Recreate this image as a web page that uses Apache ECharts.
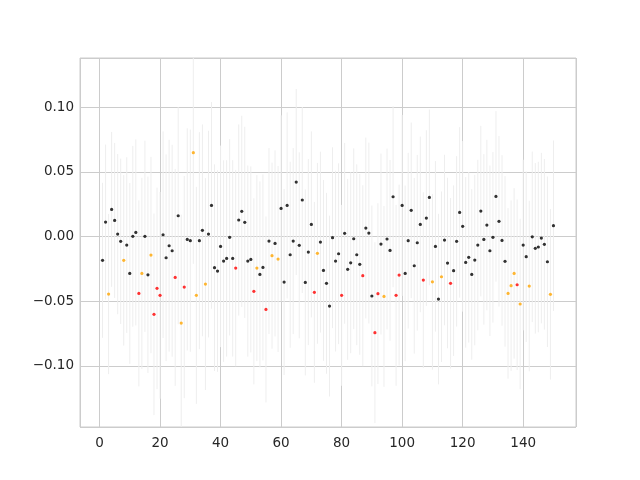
<!DOCTYPE html>
<html><head><meta charset="utf-8">
<script src="https://cdn.jsdelivr.net/npm/echarts@6/dist/echarts.min.js"></script>
<style>html,body{margin:0;padding:0;background:#fff}#c{width:640px;height:480px}</style>
</head><body><div id="c"></div>
<script>
const xValues = [];
for (let i = 1; i <= 150; i++) xValues.push(i);
const yValues = [
-0.0184,0.0112,-0.0445,0.0210,0.0125,0.0019,-0.0037,-0.0184,-0.0066,-0.0285,
0.0002,0.0032,-0.0440,-0.0285,0.0002,-0.0296,-0.0143,-0.0602,-0.0401,-0.0455,
0.0014,-0.0164,-0.0071,-0.0110,-0.0316,0.0161,-0.0670,-0.0391,-0.0022,-0.0032,
0.0649,-0.0455,-0.0032,0.0048,-0.0368,0.0019,0.0241,-0.0241,-0.0267,-0.0076,
-0.0190,-0.0169,-0.0006,-0.0169,-0.0244,0.0128,0.0195,0.0110,-0.0190,-0.0177,
-0.0424,-0.0244,-0.0293,-0.0239,-0.0564,-0.0035,-0.0148,-0.0053,-0.0174,0.0218,
-0.0352,0.0241,-0.0141,-0.0035,0.0422,-0.0068,0.0283,-0.0355,-0.0120,0.0094,
-0.0432,-0.0130,-0.0043,-0.0262,-0.0362,-0.0538,-0.0009,-0.0190,-0.0133,-0.0455,
0.0025,-0.0254,-0.0203,-0.0017,-0.0141,-0.0215,-0.0303,0.0066,0.0027,-0.0460,
-0.0744,-0.0442,-0.0058,-0.0463,-0.0019,-0.0107,0.0308,-0.0455,-0.0298,0.0241,
-0.0285,-0.0032,0.0203,-0.0226,-0.0048,0.0094,-0.0337,0.0143,0.0303,-0.0350,
-0.0076,-0.0484,-0.0311,-0.0027,-0.0205,-0.0362,-0.0264,-0.0037,0.0187,0.0079,
-0.0200,-0.0161,-0.0293,-0.0182,-0.0066,0.0197,-0.0022,0.0089,-0.0110,-0.0006,
0.0311,0.0118,-0.0030,-0.0192,-0.0440,-0.0380,-0.0285,-0.0373,-0.0522,-0.0066,
-0.0156,-0.0383,-0.0002,-0.0091,-0.0081,-0.0012,-0.0060,-0.0195,-0.0447,0.0084
];
const colorKeys = (
"kkokkkkokk"+"kkrokkorrr"+"kkkkrkorkk"+"ookkokkkkk"+"kkkkrkkkkk"+
"rokkrkokok"+"kkkkkkkkkk"+"rokkkkkkkr"+"kkkkkkrkkk"+"rrkokkkrrk"+
"kkkkkkrkko"+"kkokkrkkkk"+"kkkkkkkkkk"+"kkkkooorok"+"kokkkkkkok"
).split("");
const yErr = [
0.060,0.060,0.062,0.060,0.060,0.062,0.064,0.066,0.068,0.070,
0.070,0.072,0.072,0.074,0.074,0.076,0.076,0.078,0.078,0.080,
0.080,0.080,0.082,0.082,0.084,0.084,0.084,0.086,0.086,0.086,
0.086,0.084,0.084,0.082,0.082,0.080,0.080,0.080,0.078,0.078,
0.078,0.076,0.076,0.076,0.076,0.074,0.074,0.074,0.074,0.072,
0.072,0.072,0.072,0.072,0.072,0.072,0.072,0.072,0.072,0.072,
0.072,0.072,0.072,0.072,0.072,0.072,0.072,0.072,0.072,0.072,
0.070,0.070,0.070,0.070,0.070,0.070,0.070,0.070,0.070,0.070,
0.070,0.070,0.070,0.070,0.070,0.070,0.070,0.070,0.070,0.070,
0.070,0.070,0.070,0.070,0.070,0.070,0.070,0.070,0.070,0.070,
0.068,0.068,0.068,0.068,0.068,0.068,0.068,0.068,0.068,0.068,
0.066,0.066,0.066,0.066,0.066,0.066,0.066,0.066,0.066,0.066,
0.066,0.066,0.066,0.066,0.066,0.066,0.066,0.066,0.066,0.066,
0.066,0.066,0.066,0.066,0.066,0.066,0.066,0.066,0.066,0.066,
0.066,0.066,0.066,0.066,0.066,0.066,0.066,0.066,0.066,0.066
];
const xTicks = [0,20,40,60,80,100,120,140];
const yTicks = [-0.10,-0.05,0.00,0.05,0.10];
const palette = {k:'#000000', r:'#ff0000', o:'#ffa500'};

const scatterData = xValues.map((x,i)=>({value:[x,yValues[i]], itemStyle:{color:palette[colorKeys[i]]}}));
const errData = xValues.map((x,i)=>[x, yValues[i]-yErr[i], yValues[i]+yErr[i]]);

const chart = echarts.init(document.getElementById('c'), null, {renderer:'canvas'});
const fmtY = v => {
  const r = Math.round(v*100)/100;
  if (!yTicks.some(t=>Math.abs(t-r)<1e-9) || Math.abs(v-r)>1e-9) return '';
  return (r<0?'\u2212':'') + Math.abs(r).toFixed(2);
};
const fmtX = v => xTicks.includes(Math.round(v)) && Math.abs(v-Math.round(v))<1e-9 ? String(Math.round(v)) : '';
chart.setOption({
  animation:false,
  backgroundColor:'#ffffff',
  grid:{left:80, right:64, top:58, bottom:53, show:true, borderColor:'#cccccc', borderWidth:1, backgroundColor:'transparent'},
  xAxis:{type:'value', min:-6.45, max:157.45, splitNumber:8,
    axisLine:{show:false}, axisTick:{show:false},
    axisLabel:{formatter:fmtX, color:'#262626', fontFamily:'DejaVu Sans', fontSize:13.5, margin:9, showMinLabel:false, showMaxLabel:false},
    splitLine:{show:true, lineStyle:{color:'#cccccc', width:1}}},
  yAxis:{type:'value', min:-0.1474, max:0.1382, splitNumber:6,
    axisLine:{show:false}, axisTick:{show:false},
    axisLabel:{formatter:fmtY, color:'#262626', fontFamily:'DejaVu Sans', fontSize:13.5, margin:6, showMinLabel:false, showMaxLabel:false},
    splitLine:{show:true, lineStyle:{color:'#cccccc', width:1}}},
  series:[
    {type:'custom', data:errData, z:1, silent:true, clip:true,
     renderItem:(params, api)=>{
       const p1 = api.coord([api.value(0), api.value(1)]);
       const p2 = api.coord([api.value(0), api.value(2)]);
       return {type:'line', shape:{x1:p1[0], y1:p1[1], x2:p2[0], y2:p2[1]}, style:{stroke:'#eeeeee', lineWidth:1}};
     },
     encode:{x:0, y:[1,2]}},
    {type:'scatter', data:scatterData, symbol:'circle', symbolSize:3.2, z:3}
  ]
});
</script></body></html>
